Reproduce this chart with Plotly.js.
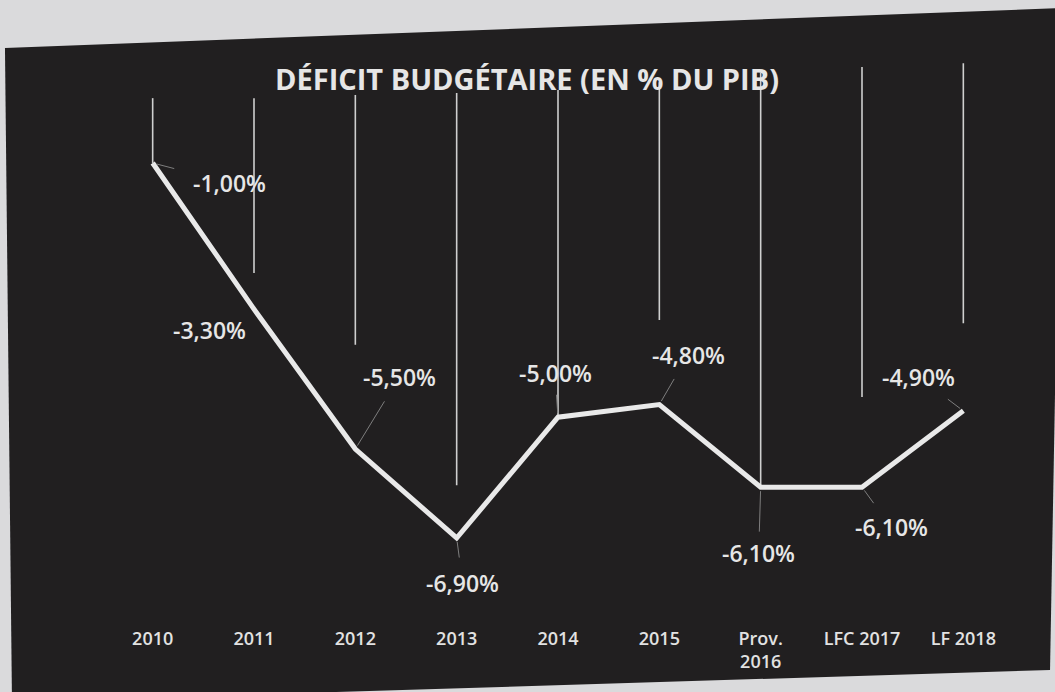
<!DOCTYPE html>
<html>
<head>
<meta charset="utf-8">
<script src="https://cdn.plot.ly/plotly-3.0.1.min.js"></script>
<style>html,body{margin:0;padding:0;background:#dadadc;}#chart{width:1055px;height:692px;}</style>
</head>
<body>
<div id="chart"></div>
<script>
// ---- data ----
const categories = ['2010', '2011', '2012', '2013', '2014', '2015', 'Prov.<br>2016', 'LFC 2017', 'LF 2018'];
const deficit = [-1.00, -3.30, -5.50, -6.90, -5.00, -4.80, -6.10, -6.10, -4.90];
// vertical guide lines (start and end, in % units)
const guideTop = [0.02, 0.02, 0.07, 0.10, 0.15, 0.27, 0.42, 0.51, 0.57];
const guideEnd = [-1.00, -2.73, -3.86, -6.07, -5.00, -3.47, -6.10, -4.68, -3.52];

// ---- presentation ----
const labelOffsets = [[77, 20], [-45, 21], [44, -72], [6, 45], [-3, -44], [29, -50], [-2, 66], [29, 40], [-45, -34]];
const leaderStart = [18, 0, 8, 8, 4, 8, 4, 8, 8];
const leaderShown = [true, false, true, true, true, true, true, true, true];
const W = 1055, H = 692;
const M = {l: 102, r: 41, t: 60, b: 72};
const FONT = "'Open Sans', 'DejaVu Sans', sans-serif";

function fmt(v) { return v.toFixed(2).replace('.', ',') + '%'; }

const gx = [], gy = [];
categories.forEach((c, i) => { gx.push(c, c, null); gy.push(guideTop[i], guideEnd[i], null); });

const traces = [
  {x: gx, y: gy, type: 'scatter', mode: 'lines', line: {color: '#cfcfcf', width: 1.6}, hoverinfo: 'skip', showlegend: false},
  {x: categories, y: deficit, type: 'scatter', mode: 'lines', line: {color: '#e9e9e9', width: 5}, showlegend: false}
];

// annotation x uses the category index (numeric-looking names would be read as numbers)
const annotations = deficit.map((v, i) => ({
  x: i, y: v, xref: 'x', yref: 'y',
  text: fmt(v), showarrow: true, arrowhead: 0, arrowwidth: 1,
  arrowcolor: leaderShown[i] ? '#7e7e7e' : 'rgba(0,0,0,0)',
  ax: labelOffsets[i][0], ay: labelOffsets[i][1], standoff: 4, startstandoff: leaderStart[i],
  font: {family: FONT, size: 23, color: '#e6e6e6', weight: 600}
}));

// dark photographed panel (quad in pixels -> paper fractions)
const pw = W - M.l - M.r, ph = H - M.t - M.b;
const quad = [[5, 48], [1062, 8], [1050, 670], [12, 702]];
const toPaper = p => [(p[0] - M.l) / pw, (H - M.b - p[1]) / ph];
const qp = quad.map(toPaper);
const path = 'M ' + qp.map(p => p[0].toFixed(4) + ' ' + p[1].toFixed(4)).join(' L ') + ' Z';

const layout = {
  width: W, height: H,
  margin: M,
  paper_bgcolor: '#dadadc',
  plot_bgcolor: 'rgba(0,0,0,0)',
  title: {
    text: '<b>DÉFICIT BUDGÉTAIRE (EN % DU PIB)</b>',
    font: {family: FONT, size: 29, color: '#e6e6e6'},
    x: 527 / W, xanchor: 'center', xref: 'container',
    y: 1 - 80 / H, yanchor: 'middle', yref: 'container'
  },
  xaxis: {
    type: 'category', range: [-0.5, 8.5],
    showgrid: false, zeroline: false, showline: false, ticks: '',
    ticklabelstandoff: 6,
    tickfont: {family: FONT, size: 18, color: '#e2e2e2', weight: 600}
  },
  yaxis: {
    range: [-8.19, 0.62], showgrid: false, zeroline: false, showline: false,
    showticklabels: false, ticks: ''
  },
  shapes: [{type: 'path', xref: 'paper', yref: 'paper', path: path, fillcolor: '#211f20', line: {width: 0}, layer: 'below'}],
  annotations: annotations,
  showlegend: false
};

Plotly.newPlot('chart', traces, layout, {displayModeBar: false, staticPlot: true});
</script>
</body>
</html>
